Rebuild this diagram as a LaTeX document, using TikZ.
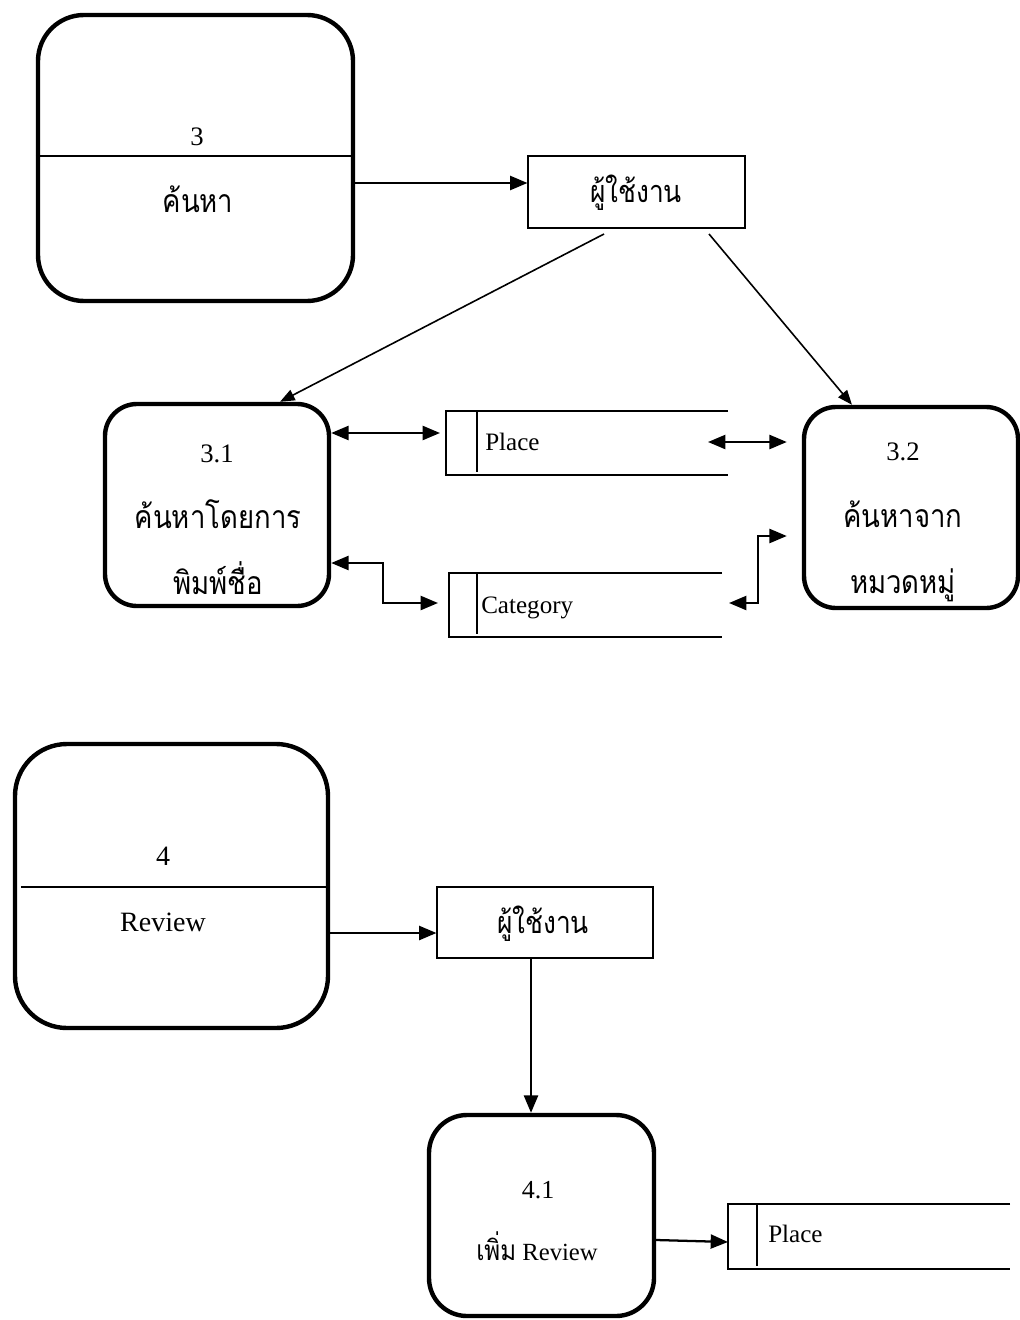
\documentclass[tikz,border=0pt]{standalone}
\usepackage{fontspec}
\setmainfont{Liberation Serif}
\newfontfamily\thaifont[Script=Thai,FakeStretch=0.86]{Loma}
\usetikzlibrary{arrows.meta,calc}
\newcommand\pxu{0.75pt}
\begin{document}
\begin{tikzpicture}[x=0.75pt,y=-0.75pt,
  proc/.style={draw,line width=3.3pt,inner sep=0pt},
  ubox/.style={draw,line width=0.8pt,inner sep=0pt},
  sbox/.style={inner sep=0pt,outer sep=0pt},
  stline/.style={line width=1.5pt},
  stin/.style={line width=0.9pt},
  divline/.style={line width=1.2pt},
  arr/.style={line width=1.7pt,-{Triangle[length=13pt,width=10.5pt]}},
  darr/.style={line width=1.7pt,{Triangle[length=13pt,width=10.5pt]}-{Triangle[length=13pt,width=10.5pt]}},
  diag/.style={line width=1.2pt,-{Triangle[length=11pt,width=8.5pt]}},
  num/.style={anchor=base,inner sep=0pt,font=\fontsize{20}{24}\selectfont},
  thai/.style={anchor=base,inner sep=0pt,font=\fontsize{24}{28}\selectfont\thaifont},
  stxt/.style={anchor=base west,inner sep=0pt,font=\fontsize{18.8}{22}\selectfont}
]
\useasboundingbox (0,0) rectangle (1020,1320);

% ---- process boxes ----
\node[proc,rounded corners=46*\pxu,minimum width=315*\pxu,minimum height=286*\pxu] (p3) at (195.5,158) {};
\node[ubox,minimum width=217*\pxu,minimum height=72*\pxu] (u1) at (636.5,192) {};
\node[proc,rounded corners=32*\pxu,minimum width=224*\pxu,minimum height=202*\pxu] (p31) at (217,505) {};
\node[proc,rounded corners=32*\pxu,minimum width=214*\pxu,minimum height=201*\pxu] (p32) at (911,507.5) {};
\node[proc,rounded corners=52*\pxu,minimum width=313*\pxu,minimum height=284*\pxu] (p4) at (171.5,886) {};
\node[ubox,minimum width=216*\pxu,minimum height=71*\pxu] (u2) at (545,922.5) {};
\node[proc,rounded corners=38*\pxu,minimum width=225*\pxu,minimum height=201*\pxu] (p41) at (541.5,1215.5) {};

% ---- data stores ----
\node[sbox,minimum width=282*\pxu,minimum height=64*\pxu] (pl1) at (587,443) {};
\node[sbox,minimum width=273*\pxu,minimum height=64*\pxu] (cat) at (585.5,605) {};
\node[sbox,minimum width=282*\pxu,minimum height=65*\pxu] (pl2) at (869,1236.5) {};
\foreach \s/\d in {pl1/31,cat/28,pl2/29}{
  \draw[stline] (\s.north east) -- (\s.north west) -- (\s.south west) -- (\s.south east);
  \draw[stin] ($(\s.north west)+(\d,0)$) -- ($(\s.south west)+(\d,-3)$);
}

% ---- dividers ----
\draw[divline] (p3.west |- 0,156) -- (p3.east |- 0,156);
\draw[divline] ($(p4.west |- 0,887)+(8,0)$) -- (p4.east |- 0,887);

% ---- texts ----
\node[num] (t3) at (197,145) {3};
\node[thai] (t3b) at (198,212) {ค้นหา};
\node[thai,font=\fontsize{23}{27}\selectfont\thaifont] (tu1) at (636,202) {ผู้ใช้งาน};
\node[num] (t31) at (217,462) {3.1};
\node[thai] (t31b) at (218,528) {ค้นหาโดยการ};
\node[thai] (t31c) at (218,594) {พิมพ์ชื่อ};
\node[num] (t32) at (903,460) {3.2};
\node[thai] (t32b) at (903,527) {ค้นหาจาก};
\node[thai] (t32c) at (903,593) {หมวดหมู่};
\node[stxt] (tpl1) at (485,450) {Place};
\node[stxt] (tcat) at (481,613) {Category};
\node[num,font=\fontsize{21}{25}\selectfont] (t4) at (163,865) {4};
\node[num,font=\fontsize{21}{25}\selectfont] (t4b) at (163,931) {Review};
\node[thai,font=\fontsize{23}{27}\selectfont\thaifont] (tu2) at (543,933) {ผู้ใช้งาน};
\node[num,font=\fontsize{19.5}{23}\selectfont] (t41) at (538,1198) {4.1};
\node[num,font=\fontsize{18.5}{22}\selectfont] (t41b) at (537,1260) {{\fontsize{21}{25}\selectfont\thaifont เพิ่ม} Review};
\node[stxt] (tpl2) at (768,1242) {Place};

% ---- connectors ----
\draw[arr] (p3.east |- 0,183) -- (u1.west |- 0,183);
\coordinate (d1) at (604,234);
\coordinate (d2) at (709,234);
\draw[diag] (d1) -- ($(p31.north)+(63,0)$);
\draw[diag] (d2) -- ($(p32.north)+(-59,0)$);
\draw[darr] (p31.east |- 0,433) -- ($(pl1.west |- 0,433)+(-6,0)$);
\draw[darr] ($(pl1.east |- 0,442)+(-20,0)$) -- ($(p32.west |- 0,442)+(-15,0)$);
\draw[darr] (p31.east |- 0,563) -| (383,603) -- ($(cat.west |- 0,603)+(-11,0)$);
\draw[darr] ($(cat.east |- 0,603)+(7,0)$) -| (758,536) -- ($(p32.west |- 0,536)+(-15,0)$);
\draw[arr] ($(p4.east |- 0,933)+(-3,0)$) -- (u2.west |- 0,933);
\draw[arr] (u2.south -| 531,0) -- (p41.north -| 531,0);
\draw[arr] (p41.east |- 0,1240) -- (pl2.west |- 0,1242);
\end{tikzpicture}
\end{document}
